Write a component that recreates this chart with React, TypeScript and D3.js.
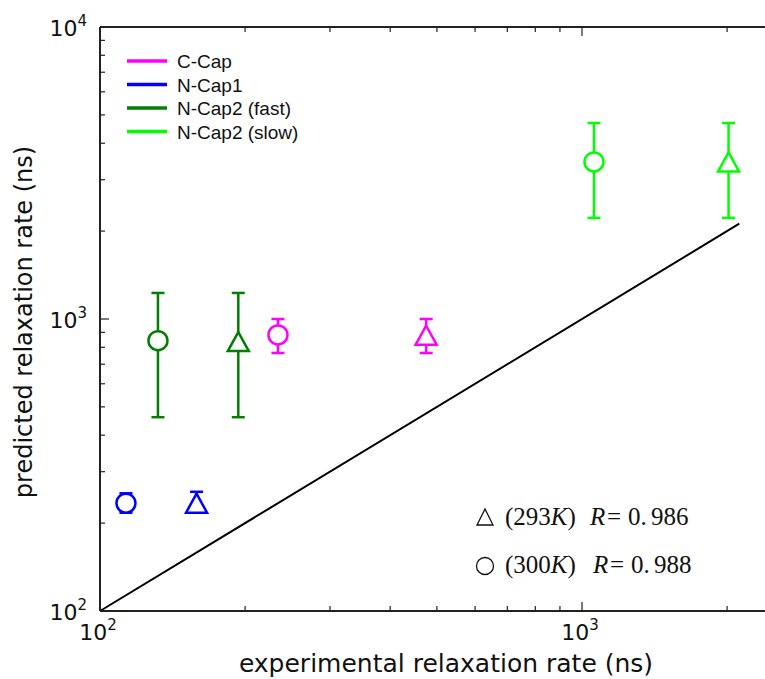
import React from "react";
import * as d3 from "d3";

const seriesNames = ["C-Cap", "N-Cap1", "N-Cap2 (fast)", "N-Cap2 (slow)"];
const seriesColors = ["#ff00ff", "#0000ff", "#007f00", "#00ff00"];

// 293K (triangles): experimental (x), predicted (y), error bar low / high
const tri293Exp = [475, 158.6, 193.6, 2014];
const tri293Pred = [880, 234, 837, 3450];
const tri293Lo = [765, 217, 461, 2220];
const tri293Hi = [1000, 256, 1228, 4690];

// 300K (circles)
const circ300Exp = [234, 113.2, 131.9, 1059];
const circ300Pred = [882, 234, 843, 3450];
const circ300Lo = [765, 217, 461, 2220];
const circ300Hi = [1000, 253, 1228, 4690];

const diagonal = [100, 2120];
const xMajor = [100, 1000];
const yMajor = [100, 1000, 10000];

const W = 765;
const H = 679;

export default function App() {
  const x = d3.scaleLog().domain([100, 1000]).range([100, 582]);
  const y = d3.scaleLog().domain([100, 10000]).range([611, 27]);
  const left = 100;
  const bottom = 611;
  const top = 27;
  const right = W + 5;

  const xMinor: number[] = [];
  for (const dec of [100, 1000]) for (let k = 2; k <= 9; k++) {
    const v = dec * k;
    if (x(v) < W) xMinor.push(v);
  }
  const yMinor: number[] = [];
  for (const dec of [100, 1000]) for (let k = 2; k <= 9; k++) yMinor.push(dec * k);

  const tri = (cx: number, cy: number, w: number, h: number) =>
    `M${cx},${cy - h / 2} L${cx - w / 2},${cy + h / 2} L${cx + w / 2},${cy + h / 2} Z`;

  const capW = 6.5;
  const points: JSX.Element[] = [];
  seriesNames.forEach((_, i) => {
    const c = seriesColors[i];
    const cx = x(circ300Exp[i]);
    points.push(
      <g key={"c" + i} stroke={c} strokeWidth={2.5} fill="none">
        <line x1={cx} x2={cx} y1={y(circ300Lo[i])} y2={y(circ300Hi[i])} />
        <line x1={cx - capW} x2={cx + capW} y1={y(circ300Lo[i])} y2={y(circ300Lo[i])} />
        <line x1={cx - capW} x2={cx + capW} y1={y(circ300Hi[i])} y2={y(circ300Hi[i])} />
        <circle cx={cx} cy={y(circ300Pred[i])} r={9.5} fill="#fff" />
      </g>
    );
    const tx = x(tri293Exp[i]);
    points.push(
      <g key={"t" + i} stroke={c} strokeWidth={2.5} fill="none">
        <line x1={tx} x2={tx} y1={y(tri293Lo[i])} y2={y(tri293Hi[i])} />
        <line x1={tx - capW} x2={tx + capW} y1={y(tri293Lo[i])} y2={y(tri293Lo[i])} />
        <line x1={tx - capW} x2={tx + capW} y1={y(tri293Hi[i])} y2={y(tri293Hi[i])} />
        <path d={tri(tx, y(tri293Pred[i]), 21, 19)} fill="#fff" strokeLinejoin="miter" />
      </g>
    );
  });

  const sans = "'DejaVu Sans', sans-serif";
  const legendFont = "'Liberation Sans', Arial, sans-serif";
  const serif = "'Liberation Serif', 'DejaVu Serif', serif";

  const annot = [
    { temp: "293", r: "0.986", cy: 517, base: 525, kEnd: 505, rx: 590 },
    { temp: "300", r: "0.988", cy: 566, base: 573, kEnd: 505, rx: 593 },
  ];

  return (
    <svg width={W} height={H} style={{ position: "absolute", left: 0, top: 0, background: "#fff" }}>
      <rect width={W} height={H} fill="#fff" />
      <line x1={x(diagonal[0])} y1={y(diagonal[0])} x2={x(diagonal[1])} y2={y(diagonal[1])} stroke="#000" strokeWidth={2} />
      {points}
      <g stroke="#222" strokeWidth={2} fill="none">
        <line x1={left} x2={right} y1={bottom} y2={bottom} />
        <line x1={left} x2={right} y1={top} y2={top} />
        <line x1={left} x2={left} y1={top} y2={bottom} />
      </g>
      <g stroke="#222" strokeWidth={1.2}>
        {xMajor.map((v) => (
          <g key={"xm" + v}>
            <line x1={x(v)} x2={x(v)} y1={bottom} y2={bottom - 9} />
            <line x1={x(v)} x2={x(v)} y1={top} y2={top + 9} />
          </g>
        ))}
        {xMinor.map((v) => (
          <g key={"xn" + v}>
            <line x1={x(v)} x2={x(v)} y1={bottom} y2={bottom - 5} />
            <line x1={x(v)} x2={x(v)} y1={top} y2={top + 5} />
          </g>
        ))}
        {yMajor.map((v) => (
          <line key={"ym" + v} x1={left} x2={left + 9} y1={y(v)} y2={y(v)} />
        ))}
        {yMinor.map((v) => (
          <line key={"yn" + v} x1={left} x2={left + 5} y1={y(v)} y2={y(v)} />
        ))}
      </g>
      <g fontFamily={sans} fontSize={22} fill="#111">
        {xMajor.map((v) => (
          <text key={"xl" + v} x={x(v) - 2} y={bottom + 29} textAnchor="middle">
            10<tspan fontSize={15} dy={-10}>{Math.round(Math.log10(v))}</tspan>
          </text>
        ))}
        {yMajor.map((v) => (
          <text key={"yl" + v} x={87} y={y(v) + 9} textAnchor="end">
            10<tspan fontSize={15} dy={-10}>{Math.round(Math.log10(v))}</tspan>
          </text>
        ))}
      </g>
      <text x={446} y={672} textAnchor="middle" fontFamily={sans} fontSize={25} fill="#111">
        experimental relaxation rate (ns)
      </text>
      <text transform="translate(32,322) rotate(-90)" textAnchor="middle" fontFamily={sans} fontSize={24} fill="#111">
        predicted relaxation rate (ns)
      </text>
      <g fontFamily={legendFont} fontSize={19} fill="#111">
        {seriesNames.map((n, i) => (
          <g key={n} transform={`translate(127,${61 + i * 23.5})`}>
            <line x1={0} x2={40} y1={0} y2={0} stroke={seriesColors[i]} strokeWidth={3.5} />
            <text x={50} y={7}>{n}</text>
          </g>
        ))}
      </g>
      <g fontFamily={serif} fontSize={25} fill="#111">
        <path d={tri(485, annot[0].cy, 16, 16)} fill="none" stroke="#111" strokeWidth={1.3} />
        <circle cx={485} cy={annot[1].cy} r={8.5} fill="none" stroke="#111" strokeWidth={1.3} />
        {annot.map((a) => (
          <text key={a.temp} y={a.base}>
            <tspan x={a.kEnd}>({a.temp}</tspan>
            <tspan fontStyle="italic">K</tspan>
            <tspan>)</tspan>
            <tspan x={a.rx} fontStyle="italic">R</tspan>
            <tspan x={a.rx + 17}>=</tspan>
            <tspan x={a.rx + 38}>0.</tspan>
            <tspan x={a.rx + 61}>{a.r.slice(2)}</tspan>
          </text>
        ))}
      </g>
    </svg>
  );
}
